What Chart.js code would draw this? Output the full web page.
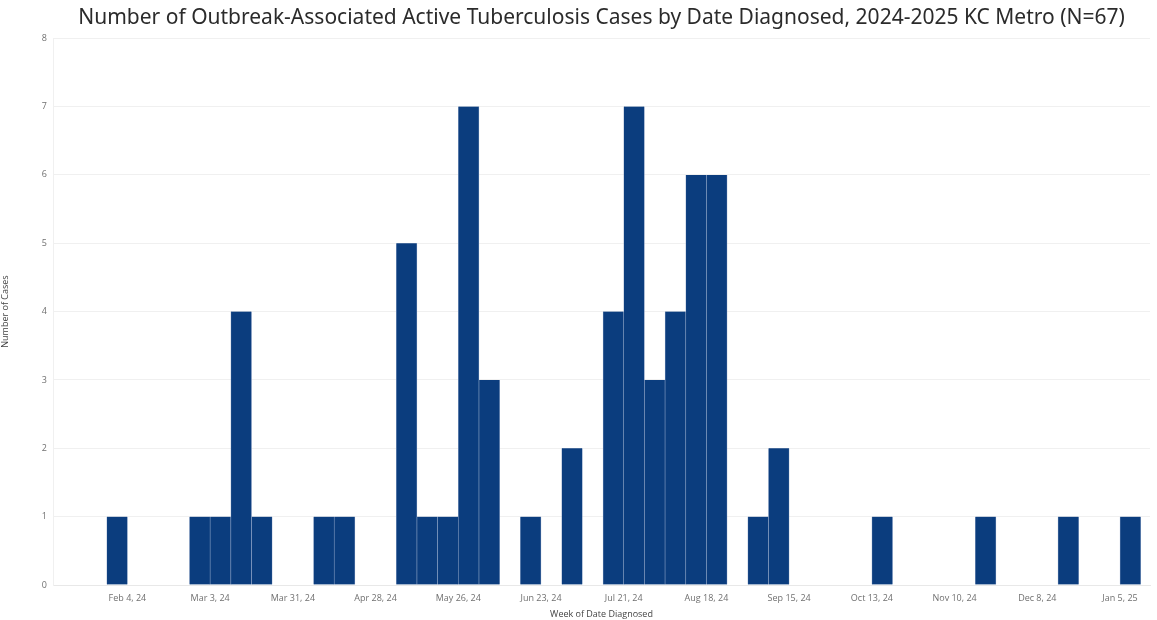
<!DOCTYPE html>
<html>
<head>
<meta charset="utf-8">
<script src="https://cdn.jsdelivr.net/npm/chart.js@4"></script>
<style>
  body { margin: 0; background: #fff; }
  #wrap { width: 1157px; height: 620px; }
</style>
</head>
<body>
<div id="wrap"><canvas id="chart" width="1157" height="620"></canvas></div>
<script>
// week start dates (Sunday) that had at least one case, and the case counts
const weekStarts = [
  '2024-01-28', '2024-02-25', '2024-03-03', '2024-03-10', '2024-03-17',
  '2024-04-07', '2024-04-14', '2024-05-05', '2024-05-12', '2024-05-19',
  '2024-05-26', '2024-06-02', '2024-06-16', '2024-06-30', '2024-07-14',
  '2024-07-21', '2024-07-28', '2024-08-04', '2024-08-11', '2024-08-18',
  '2024-09-01', '2024-09-08', '2024-10-13', '2024-11-17', '2024-12-15',
  '2025-01-05'
];
const cases = [
  1, 1, 1, 4, 1,
  1, 1, 5, 1, 1,
  7, 3, 1, 2, 4,
  7, 3, 4, 6, 6,
  1, 2, 1, 1, 1,
  1
];

// x axis ticks (every 4 weeks)
const tickDates = [
  '2024-02-04', '2024-03-03', '2024-03-31', '2024-04-28', '2024-05-26',
  '2024-06-23', '2024-07-21', '2024-08-18', '2024-09-15', '2024-10-13',
  '2024-11-10', '2024-12-08', '2025-01-05'
];
const tickLabels = [
  'Feb 4, 24', 'Mar 3, 24', 'Mar 31, 24', 'Apr 28, 24', 'May 26, 24',
  'Jun 23, 24', 'Jul 21, 24', 'Aug 18, 24', 'Sep 15, 24', 'Oct 13, 24',
  'Nov 10, 24', 'Dec 8, 24', 'Jan 5, 25'
];
const yTicks = [0, 1, 2, 3, 4, 5, 6, 7, 8];

const baseDate = Date.parse(tickDates[0] + 'T00:00:00Z');
const WEEK = 7 * 24 * 3600 * 1000;
const weekIndex = d => Math.round((Date.parse(d + 'T00:00:00Z') - baseDate) / WEEK);

// each bar covers its whole week, so it sits at the middle of the week
const points = weekStarts.map((d, i) => ({ x: weekIndex(d) + 0.5, y: cases[i] }));
const tickPos = tickDates.map(weekIndex);

const ctx = document.getElementById('chart').getContext('2d');
new Chart(ctx, {
  type: 'bar',
  data: {
    datasets: [{
      label: 'Cases',
      data: points,
      backgroundColor: '#0b3d7e',
      borderColor: '#8da3c6',
      borderWidth: { left: 0.6, right: 0.6, top: 0, bottom: 0 },
      borderSkipped: false,
      barPercentage: 1,
      categoryPercentage: 1
    }]
  },
  options: {
    responsive: false,
    animation: false,
    layout: { padding: { left: 0, right: 7, top: 0, bottom: 0 } },
    plugins: {
      legend: { display: false },
      tooltip: { enabled: false },
      title: {
        display: true,
        fullSize: false,
        text: 'Number of Outbreak-Associated Active Tuberculosis Cases by Date Diagnosed, 2024-2025 KC Metro (N=67)',
        color: '#2b2b2b',
        font: { family: 'Noto Sans', size: 21, weight: 'normal' },
        padding: { top: 5, bottom: 8 }
      }
    },
    scales: {
      x: {
        type: 'linear',
        offset: false,
        min: -3.6,
        max: 49.45,
        afterBuildTicks: scale => {
          scale.ticks = tickPos.map(v => ({ value: v }));
        },
        afterFit: scale => { scale.height = 35; },
        ticks: {
          autoSkip: false,
          maxRotation: 0,
          padding: 8,
          color: '#707070',
          font: { family: 'Open Sans', size: 9 },
          callback: (v) => tickLabels[tickPos.indexOf(v)]
        },
        grid: { display: false, drawTicks: false },
        border: { display: true, color: '#e8e8e8' },
        title: {
          display: true,
          text: 'Week of Date Diagnosed',
          color: '#444444',
          font: { family: 'Open Sans', size: 9 },
          padding: { top: 0, bottom: 0 }
        }
      },
      y: {
        min: 0,
        max: 8,
        afterBuildTicks: scale => {
          scale.ticks = yTicks.map(v => ({ value: v }));
        },
        afterFit: scale => { scale.width = 53; },
        ticks: {
          padding: 6,
          color: '#707070',
          font: { family: 'Open Sans', size: 9 }
        },
        grid: { color: '#f0f0f0', drawTicks: false },
        border: { display: true, color: '#f0f0f0' },
        title: {
          display: true,
          text: 'Number of Cases',
          color: '#444444',
          font: { family: 'Open Sans', size: 9 },
          padding: { top: 0, bottom: 8 }
        }
      }
    }
  }
});
</script>
</body>
</html>
